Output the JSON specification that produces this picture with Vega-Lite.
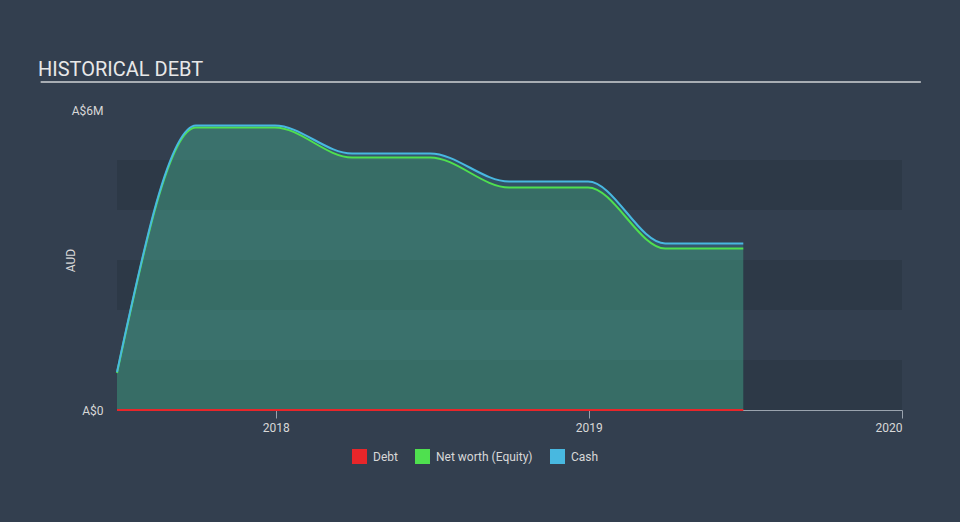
{
  "$schema": "https://vega.github.io/schema/vega-lite/v6.json",
  "width": 785,
  "height": 300,
  "autosize": "none",
  "padding": {"left": 117, "top": 110, "right": 58, "bottom": 112},
  "background": "#333f4f",
  "config": {
    "font": "Roboto",
    "view": {"stroke": null},
    "axis": {"labelFont": "Roboto", "titleFont": "Roboto"},
    "legend": {"labelFont": "Roboto"}
  },
  "title": {
    "text": "HISTORICAL DEBT",
    "anchor": "start",
    "frame": "group",
    "dx": -79,
    "offset": 1,
    "fontSize": 20,
    "fontWeight": "normal",
    "color": "#e8e8e8",
    "font": "Roboto"
  },
  "datasets": {
    "bands": [
      {"lo": 0, "hi": 1000000},
      {"lo": 2000000, "hi": 3000000},
      {"lo": 4000000, "hi": 5000000}
    ],
    "series": [
      {"date": "2017-06-30", "series": "Debt", "value": 0},
      {"date": "2017-09-30", "series": "Debt", "value": 0},
      {"date": "2017-12-31", "series": "Debt", "value": 0},
      {"date": "2018-03-31", "series": "Debt", "value": 0},
      {"date": "2018-06-30", "series": "Debt", "value": 0},
      {"date": "2018-09-30", "series": "Debt", "value": 0},
      {"date": "2018-12-31", "series": "Debt", "value": 0},
      {"date": "2019-03-31", "series": "Debt", "value": 0},
      {"date": "2019-06-30", "series": "Debt", "value": 0},
      {"date": "2017-06-30", "series": "Net worth (Equity)", "value": 740000},
      {"date": "2017-09-30", "series": "Net worth (Equity)", "value": 5650000},
      {"date": "2017-12-31", "series": "Net worth (Equity)", "value": 5650000},
      {"date": "2018-03-31", "series": "Net worth (Equity)", "value": 5050000},
      {"date": "2018-06-30", "series": "Net worth (Equity)", "value": 5050000},
      {"date": "2018-09-30", "series": "Net worth (Equity)", "value": 4450000},
      {"date": "2018-12-31", "series": "Net worth (Equity)", "value": 4450000},
      {"date": "2019-03-31", "series": "Net worth (Equity)", "value": 3230000},
      {"date": "2019-06-30", "series": "Net worth (Equity)", "value": 3230000},
      {"date": "2017-06-30", "series": "Cash", "value": 760000},
      {"date": "2017-09-30", "series": "Cash", "value": 5690000},
      {"date": "2017-12-31", "series": "Cash", "value": 5690000},
      {"date": "2018-03-31", "series": "Cash", "value": 5130000},
      {"date": "2018-06-30", "series": "Cash", "value": 5130000},
      {"date": "2018-09-30", "series": "Cash", "value": 4570000},
      {"date": "2018-12-31", "series": "Cash", "value": 4570000},
      {"date": "2019-03-31", "series": "Cash", "value": 3330000},
      {"date": "2019-06-30", "series": "Cash", "value": 3330000}
    ]
  },
  "layer": [
    {
      "data": {"name": "bands"},
      "mark": {"type": "rect", "color": "#2d3947"},
      "encoding": {
        "y": {"field": "lo", "type": "quantitative", "scale": {"domain": [0, 6000000]}},
        "y2": {"field": "hi"}
      }
    },
    {
      "data": {"name": "series"},
      "transform": [{"filter": "datum.series === 'Net worth (Equity)'"}],
      "mark": {"type": "area", "interpolate": "monotone", "color": "#4fe04f", "opacity": 0.2},
      "encoding": {
        "x": {"field": "date", "type": "temporal"},
        "y": {"field": "value", "type": "quantitative", "stack": null}
      }
    },
    {
      "data": {"name": "series"},
      "transform": [{"filter": "datum.series === 'Cash'"}],
      "mark": {"type": "area", "interpolate": "monotone", "color": "#48b8e0", "opacity": 0.2},
      "encoding": {
        "x": {"field": "date", "type": "temporal"},
        "y": {"field": "value", "type": "quantitative", "stack": null}
      }
    },
    {
      "data": {"name": "series"},
      "mark": {"type": "line", "interpolate": "monotone", "strokeWidth": 2},
      "encoding": {
        "x": {
          "field": "date",
          "type": "temporal",
          "scale": {"domain": ["2017-06-30", "2020-01-01"]},
          "axis": {
            "title": null,
            "values": ["2018-01-01", "2019-01-01", "2020-01-01"],
            "format": "%Y",
            "labelColor": "#d8d8d8",
            "labelFontSize": 12,
            "labelPadding": 4,
            "domainColor": "#9aa3ae",
            "tickColor": "#9aa3ae",
            "tickSize": 8,
            "grid": false
          }
        },
        "y": {
          "field": "value",
          "type": "quantitative",
          "scale": {"domain": [0, 6000000]},
          "axis": {
            "title": "AUD",
            "titleColor": "#d8d8d8",
            "titleFontSize": 12,
            "titleFontWeight": "normal",
            "titlePadding": -6,
            "values": [0, 6000000],
            "labelExpr": "datum.value === 0 ? 'A$0' : 'A$6M'",
            "labelColor": "#d8d8d8",
            "labelFontSize": 12,
            "labelPadding": 14,
            "domain": false,
            "ticks": false,
            "grid": false
          }
        },
        "color": {
          "field": "series",
          "type": "nominal",
          "scale": {
            "domain": ["Debt", "Net worth (Equity)", "Cash"],
            "range": ["#e8262a", "#4fe04f", "#48b8e0"]
          },
          "legend": {
            "title": null,
            "orient": "none",
            "legendX": 235,
            "legendY": 339,
            "direction": "horizontal",
            "symbolType": "square",
            "symbolSize": 225,
            "symbolStrokeWidth": 0,
            "labelColor": "#d8d8d8",
            "labelFontSize": 12,
            "labelOffset": 6,
            "columnPadding": 17,
            "encode": {
              "symbols": {
                "update": {
                  "fill": {"scale": "color", "field": "value"},
                  "fillOpacity": {"value": 1}
                }
              }
            }
          }
        },
        "order": {"field": "series", "sort": "descending"}
      }
    },
    {
      "data": {"values": [{"a": 1}]},
      "mark": {"type": "rule", "color": "#a8adb3", "strokeWidth": 2},
      "encoding": {
        "x": {"datum": {"year": 2017, "month": 4, "date": 2}, "type": "temporal"},
        "x2": {"datum": {"year": 2020, "month": 1, "date": 23}},
        "y": {"datum": 6560000, "type": "quantitative"}
      }
    }
  ]
}
